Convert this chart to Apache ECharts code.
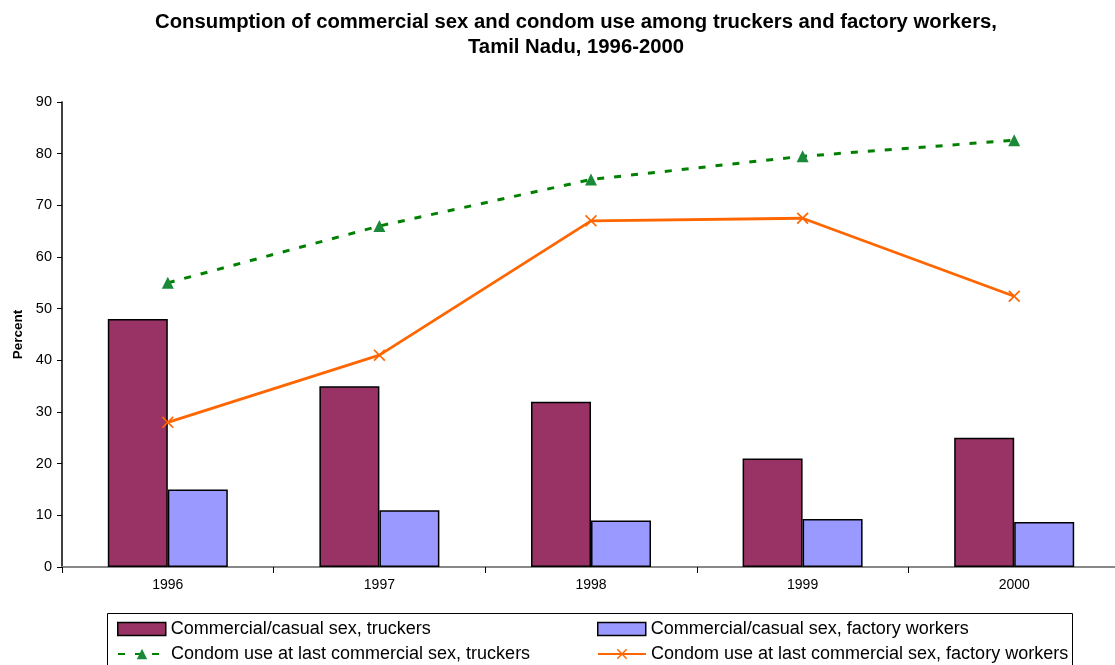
<!DOCTYPE html>
<html>
<head>
<meta charset="utf-8">
<script src="https://cdn.jsdelivr.net/npm/echarts@6/dist/echarts.min.js"></script>
<style>
  html, body { margin: 0; padding: 0; background: #fff; }
  #chart { width: 1115px; height: 665px; }
</style>
</head>
<body>
<div id="chart"></div>
<script>
const years = ['1996', '1997', '1998', '1999', '2000'];
const sexTruckers = [48, 35, 32, 21, 25];
const sexFactory = [15, 11, 9, 9.3, 8.7];
const condomTruckers = [55, 66, 75, 79.5, 82.6];
const condomFactory = [28, 41, 67, 67.5, 52.4];
const yTicks = [0, 90, 10];

const seriesNames = [
  'Commercial/casual sex, truckers',
  'Commercial/casual sex, factory workers',
  'Condom use at last commercial sex, truckers',
  'Condom use at last commercial sex, factory workers'
];

const fontFam = '"Liberation Sans", Arial, sans-serif';
const xMark = 'path://M0,1L1,0L5,4L9,0L10,1L6,5L10,9L9,10L5,6L1,10L0,9L4,5Z';

// one legend per entry, laid out as a 2x2 table
const legendItem = (name, left, top, isBar) => {
  const l = {
    left: left, top: top, padding: 0, itemWidth: 48, itemHeight: 13, itemTextGap: 4,
    data: [name],
    textStyle: { fontFamily: fontFam, fontSize: 18, color: '#000' }
  };
  if (isBar) {
    l.icon = 'rect';
    l.itemStyle = { borderColor: '#000', borderWidth: 1.5 };
  }
  return l;
};

const chart = echarts.init(document.getElementById('chart'));
chart.setOption({
  animation: false,
  title: {
    text: 'Consumption of commercial sex and condom use among truckers and factory workers,\nTamil Nadu, 1996-2000',
    left: 571, top: 5, textAlign: 'center',
    textStyle: { fontFamily: fontFam, fontSize: 20.3, fontWeight: 'bold', color: '#000', lineHeight: 25 }
  },
  grid: { left: 62, top: 102, width: 1058, height: 465, outerBoundsMode: 'none', containLabel: false },
  legend: [
    legendItem(seriesNames[0], 117, 620, true),
    legendItem(seriesNames[1], 597, 620, true),
    legendItem(seriesNames[2], 117, 645, false),
    legendItem(seriesNames[3], 597, 645, false)
  ],
  graphic: [{
    type: 'rect', left: 107, top: 613, z: -1,
    shape: { width: 965, height: 60 },
    style: { fill: '#fff', stroke: '#000', lineWidth: 1 }
  }],
  xAxis: {
    type: 'category', data: years,
    axisLine: { lineStyle: { color: '#888', width: 2 } },
    axisTick: { show: true, length: 6, lineStyle: { color: '#000' } },
    axisLabel: { fontFamily: fontFam, fontSize: 14, color: '#000', margin: 11 }
  },
  yAxis: {
    type: 'value', min: yTicks[0], max: yTicks[1], interval: yTicks[2],
    name: 'Percent', nameLocation: 'middle', nameGap: 37, nameRotate: 90,
    nameTextStyle: { fontFamily: fontFam, fontSize: 13.5, fontWeight: 'bold', color: '#000' },
    axisLine: { show: true, lineStyle: { color: '#000', width: 1.5 } },
    axisTick: { show: true, length: 5, lineStyle: { color: '#000' } },
    axisLabel: { fontFamily: fontFam, fontSize: 14.5, color: '#000', margin: 10 },
    splitLine: { show: false }
  },
  series: [
    {
      name: seriesNames[0], type: 'bar', data: sexTruckers,
      barWidth: 60, barGap: '0%',
      itemStyle: { color: '#993366', borderColor: '#000', borderWidth: 1.5 }
    },
    {
      name: seriesNames[1], type: 'bar', data: sexFactory,
      barWidth: 60, barGap: '0%',
      itemStyle: { color: '#9999FF', borderColor: '#000', borderWidth: 1.5 }
    },
    {
      name: seriesNames[2], type: 'line', data: condomTruckers,
      symbol: 'triangle', symbolSize: 12,
      lineStyle: { color: '#008000', width: 3, type: [7, 10] },
      itemStyle: { color: '#1a8a3a' }
    },
    {
      name: seriesNames[3], type: 'line', data: condomFactory,
      symbol: xMark, symbolSize: 12,
      lineStyle: { color: '#FF6600', width: 2.8 },
      itemStyle: { color: '#FF6600' }
    }
  ]
});
</script>
</body>
</html>
